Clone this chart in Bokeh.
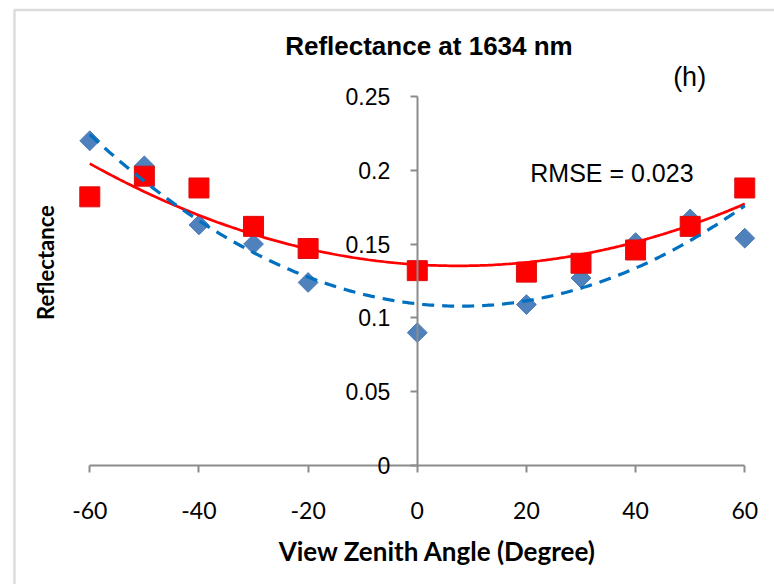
import numpy as np
from bokeh.plotting import figure
from bokeh.models import Range1d, FixedTicker, Label, PolyAnnotation, NumeralTickFormatter
from bokeh.embed import file_html
from bokeh.resources import INLINE

# View zenith angles (degrees) and the reflectance of the two series
angles = [-60, -50, -40, -30, -20, 0, 20, 30, 40, 50, 60]
refl_blue = [0.220, 0.203, 0.163, 0.150, 0.124, 0.090, 0.109, 0.127, 0.151, 0.167, 0.154]
refl_red = [0.182, 0.196, 0.188, 0.162, 0.147, 0.132, 0.131, 0.137, 0.146, 0.162, 0.188]

x_ticks = [-60, -40, -20, 0, 20, 40, 60]
x_tick_labels = ["-60", "-40", "-20", "0", "20", "40", "60"]
y_ticks = [0, 0.05, 0.1, 0.15, 0.2, 0.25]
y_tick_labels = ["0", "0.05", "0.1", "0.15", "0.2", "0.25"]

title_text = "Reflectance  at 1634 nm"
panel_tag = "(h)"
rmse_text = "RMSE =  0.023"
x_title = "View Zenith Angle (Degree)"
y_title = "Reflectance"

# Second-order polynomial trend lines fitted to each series
xs_fit = np.linspace(-60, 60, 241)
fit_blue = np.polyval(np.polyfit(angles, refl_blue, 2), xs_fit)
fit_red = np.polyval(np.polyfit(angles, refl_red, 2), xs_fit)

AXIS_GREY = "#8c8c8c"

# The plotting frame fills the whole canvas; both axes sit at fixed positions
# (x axis on y = 0, y axis on x = 0), so nothing outside the frame gets clipped.
p = figure(
    width=774, height=584,
    x_range=Range1d(-76.36, 65.45), y_range=Range1d(-0.0806, 0.3150),
    min_border_left=0, min_border_right=0, min_border_top=0, min_border_bottom=0,
    output_backend="svg", toolbar_location=None,
    background_fill_color="white", border_fill_color="white",
)
p.outline_line_color = None
p.xgrid.visible = False
p.ygrid.visible = False

xa = p.xaxis[0]
xa.fixed_location = 0
xa.bounds = (-60, 60)
xa.ticker = FixedTicker(ticks=x_ticks)
xa.major_label_overrides = dict(zip(x_ticks, x_tick_labels))
xa.axis_line_color = AXIS_GREY
xa.axis_line_width = 2
xa.major_tick_line_color = AXIS_GREY
xa.major_tick_line_width = 2
xa.major_tick_in = 0
xa.major_tick_out = 7
xa.minor_tick_line_color = None
xa.major_label_text_font = "Lato"
xa.major_label_text_font_size = "23px"
xa.major_label_text_color = "black"
xa.major_label_standoff = 29

ya = p.yaxis[0]
ya.fixed_location = 0
ya.bounds = (0, 0.25)
ya.ticker = FixedTicker(ticks=y_ticks)
ya.formatter = NumeralTickFormatter(format="0.[00]")
ya.major_label_overrides = dict(zip(y_ticks, y_tick_labels))
ya.axis_line_color = AXIS_GREY
ya.axis_line_width = 2
ya.major_tick_line_color = AXIS_GREY
ya.major_tick_line_width = 2
ya.major_tick_in = 0
ya.major_tick_out = 7
ya.minor_tick_line_color = None
ya.major_label_text_font = "Liberation Sans"
ya.major_label_text_font_size = "23px"
ya.major_label_text_color = "black"
ya.major_label_standoff = 20

# Observations
p.scatter(angles, refl_blue, marker="square", angle=np.pi / 4, size=14,
          fill_color="#4F81BD", line_color="#4A7AB5", line_width=1)
p.scatter(angles, refl_red, marker="square", size=20,
          fill_color="#FF0000", line_color="#D81010", line_width=1)

# Trend lines
p.line(xs_fit, fit_red, line_color="#FF0000", line_width=2.75)
p.line(xs_fit, fit_blue, line_color="#0070C0", line_width=3.25, line_dash="12 8")

# Outer chart border (top and left edges visible)
p.add_layout(PolyAnnotation(xs=[-73.8, 100, 100, -73.8], ys=[0.3086, 0.3086, -0.2, -0.2],
                            fill_alpha=0, line_color="#8e8e8e", line_width=2.5))

# Titles and annotations
p.add_layout(Label(x=2.8, y=0.2839, text=title_text, text_align="center", text_baseline="middle",
                   text_font="Liberation Sans", text_font_style="bold",
                   text_font_size="26px", text_color="black"))
p.add_layout(Label(x=49.9, y=0.263, text=panel_tag, text_align="center", text_baseline="middle",
                   text_font="Liberation Sans", text_font_size="27px", text_color="black"))
p.add_layout(Label(x=20.7, y=0.198, text=rmse_text, text_align="left", text_baseline="middle",
                   text_font="Liberation Sans", text_font_size="25px", text_color="black"))
p.add_layout(Label(x=3.7, y=-0.0576, text=x_title, text_align="center", text_baseline="middle",
                   text_font="Lato", text_font_style="bold",
                   text_font_size="26px", text_color="black"))
p.add_layout(Label(x=-68.1, y=0.1375, text=y_title, angle=np.pi / 2,
                   text_align="center", text_baseline="middle",
                   text_font="Lato", text_font_style="bold",
                   text_font_size="22px", text_color="black"))

open("out.html", "w").write(file_html(p, INLINE))
